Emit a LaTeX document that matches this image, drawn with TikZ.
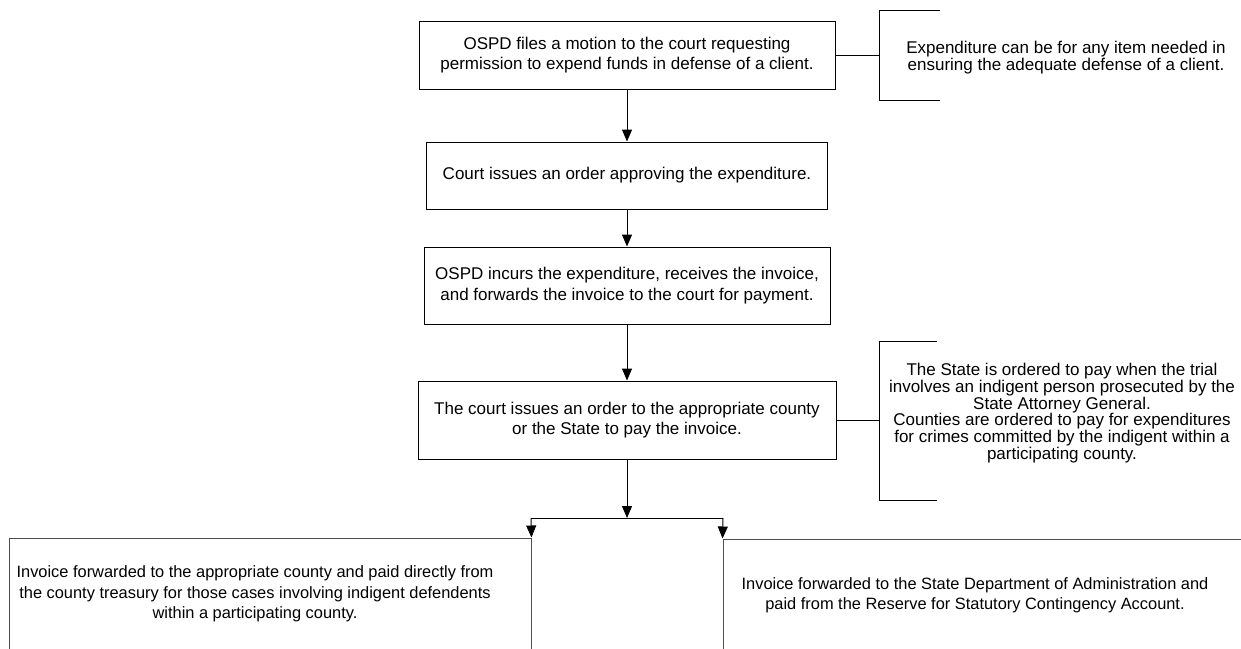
\documentclass[tikz,border=0pt]{standalone}
\usepackage{fontspec}
\setmainfont{Liberation Sans}
\usetikzlibrary{arrows.meta}
\lineskiplimit=-30pt
\begin{document}
\begin{tikzpicture}[x=1pt,y=-1pt,
  box/.style={draw=black, line width=1pt, inner sep=0pt, align=center, font=\fontsize{17}{20.5}\selectfont},
  outbox/.style={draw=black!70, line width=1pt, inner sep=0pt},
  txt/.style={inner sep=0pt, align=center, font=\fontsize{16.4}{20.5}\selectfont},
  note/.style={inner sep=0pt, align=center, font=\fontsize{17}{16.8}\selectfont},
  arr/.style={line width=1pt, -{Triangle[width=10pt,length=12pt]}},
  ln/.style={line width=1pt}]
\useasboundingbox (0,0) rectangle (1241,648);

% main flow
\node[box, minimum width=416, minimum height=68] (b1) at (627,55)
  {OSPD files a motion to the court requesting\\permission to expend funds in defense of a client.};
\node[box, minimum width=401, minimum height=67] (b2) at (627,175.5)
  {Court issues an order approving the expenditure.};
\node[box, minimum width=406, minimum height=77] (b3) at (627,285.5)
  {OSPD incurs the expenditure, receives the invoice,\\and forwards the invoice to the court for payment.};
\node[box, minimum width=418, minimum height=78] (b4) at (627,420)
  {The court issues an order to the appropriate county\\or the State to pay the invoice.};

\draw[arr] (b1) -- (b2);
\draw[arr] (b2) -- (b3);
\draw[arr] (b3) -- (b4);

% annotation 1
\coordinate (n1m) at (879,55);
\coordinate (n1a) at (940,10);
\coordinate (n1b) at (879,10);
\coordinate (n1c) at (879,100);
\coordinate (n1d) at (940,100);
\draw[ln] (n1a) -- (n1b) -- (n1c) -- (n1d);
\draw[ln] (b1.east) -- (n1m);
\node[note] (n1) at (1066,58)
  {Expenditure can be for any item needed in\\ensuring the adequate defense of a client.};

% annotation 2
\coordinate (n2m) at (879,420);
\coordinate (n2a) at (937,341);
\coordinate (n2b) at (879,341);
\coordinate (n2c) at (879,500);
\coordinate (n2d) at (937,500);
\draw[ln] (n2a) -- (n2b) -- (n2c) -- (n2d);
\draw[ln] (b4.east) -- (n2m);
\node[note] (n2) at (1062,413)
  {The State is ordered to pay when the trial\\involves an indigent person prosecuted by the\\State Attorney General.\\Counties are ordered to pay for expenditures\\for crimes committed by the indigent within a\\participating county.};

% bottom boxes
\node[outbox, minimum width=522, minimum height=114] (lb) at (270,595) {};
\node[txt] (lt) at (255,594)
  {Invoice forwarded to the appropriate county and paid directly from\\the county treasury for those cases involving indigent defendents\\within a participating county.};
\node[outbox, minimum width=527, minimum height=114] (rb) at (986.5,596) {};
\node[txt] (rt) at (975,595)
  {Invoice forwarded to the State Department of Administration and\\paid from the Reserve for Statutory Contingency Account.};

% branch
\coordinate (j) at (627,518);
\coordinate (jl) at (531,518);
\coordinate (jr) at (723,518);
\draw[arr] (b4.south) -- (j);
\draw[ln] (jl) -- (jr);
\draw[arr] (jl) -- (lb.north east);
\draw[arr] (jr) -- (rb.north west);
\end{tikzpicture}
\end{document}
